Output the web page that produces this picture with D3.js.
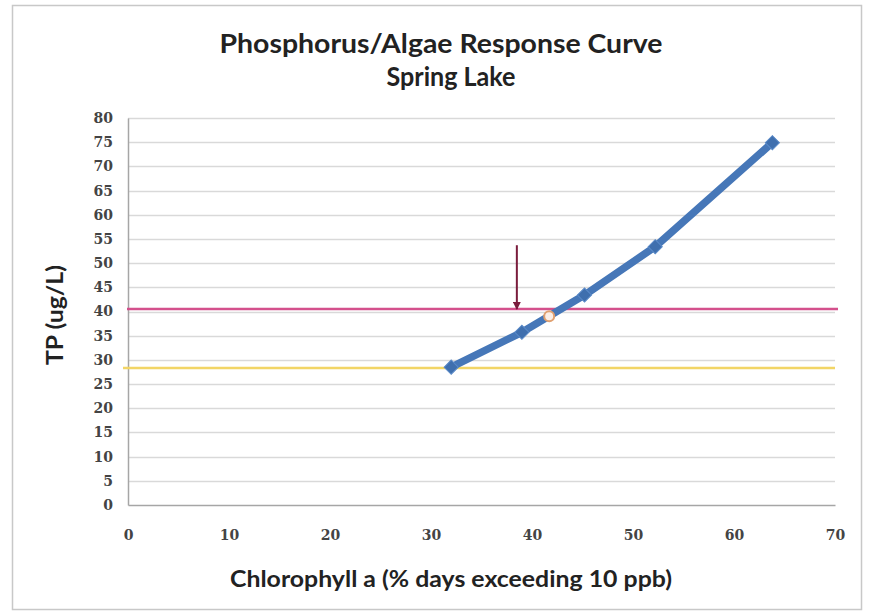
<!DOCTYPE html>
<html>
<head>
  <meta charset="utf-8" />
  <title>Phosphorus/Algae Response Curve</title>
  <style>
    body { margin: 0; background: white; }
    svg { display: block; }
  </style>
  <script src="https://cdn.jsdelivr.net/npm/d3@7"></script>
</head>
<body>
  <svg id="chart" width="872" height="616"></svg>
<script>
  // data
  var chlorophyll = [32, 39, 45.2, 52.2, 63.8];
  var tp = [28.5, 35.7, 43.4, 53.4, 74.9];
  var markPoint = [41.7, 39.0];
  var pinkLevel = 40.5;
  var yellowLevel = 28.3;
  var arrowX = 38.5, arrowFrom = 53.7, arrowTo = 40.5;
  var xTicks = [0, 10, 20, 30, 40, 50, 60, 70];
  var yTicks = d3.range(0, 81, 5);

  var svg = d3.select("#chart");
  var plotLeft = 128, plotRight = 835, plotTop = 118, plotBottom = 505;

  var x = d3.scaleLinear().domain([0, 70]).range([plotLeft, plotRight]);
  var y = d3.scaleLinear().domain([0, 80]).range([plotBottom, plotTop]);

  // outer border
  svg.append("rect")
    .attr("x", 12.5).attr("y", 5.5)
    .attr("width", 849).attr("height", 604)
    .style("fill", "white").style("stroke", "#c8c8c8").style("stroke-width", 1.5);

  // grid
  svg.append("g").selectAll("line")
    .data(yTicks.filter(function (d) { return d > 0 }))
    .enter().append("line")
    .attr("x1", plotLeft).attr("x2", plotRight)
    .attr("y1", function (d) { return Math.round(y(d)) + 0.5 })
    .attr("y2", function (d) { return Math.round(y(d)) + 0.5 })
    .style("stroke", "#d9d9d9").style("stroke-width", 1.5);

  // axes
  var yAxis = svg.append("g")
    .attr("transform", "translate(" + plotLeft + ",0)")
    .call(d3.axisLeft(y).tickValues(yTicks).tickSize(0).tickPadding(15));
  var xAxis = svg.append("g")
    .attr("transform", "translate(0," + plotBottom + ")")
    .call(d3.axisBottom(x).tickValues(xTicks).tickSize(0).tickPadding(25));
  [yAxis, xAxis].forEach(function (a) {
    a.select(".domain").style("stroke", "#a6a6a6").style("stroke-width", 1.5);
    a.selectAll("text")
      .style("font-family", "'DejaVu Serif', serif")
      .style("font-weight", "bold")
      .style("font-size", "14px")
      .style("fill", "#444");
  });

  // reference lines
  svg.append("line")
    .attr("x1", x(0) - 1).attr("x2", plotRight + 3)
    .attr("y1", y(pinkLevel)).attr("y2", y(pinkLevel))
    .style("stroke", "#d4508c").style("stroke-width", 2.5);
  svg.append("line")
    .attr("x1", x(0) - 5).attr("x2", plotRight)
    .attr("y1", y(yellowLevel)).attr("y2", y(yellowLevel))
    .style("stroke", "#f2d566").style("stroke-width", 2.5);

  // arrow
  svg.append("defs").append("marker")
    .attr("id", "head").attr("viewBox", "0 0 10 10")
    .attr("refX", 9).attr("refY", 5)
    .attr("markerWidth", 4).attr("markerHeight", 4)
    .attr("orient", "auto")
    .append("path").attr("d", "M0,0L10,5L0,10z").style("fill", "#7a1c3c");
  svg.append("line")
    .attr("x1", x(arrowX)).attr("x2", x(arrowX))
    .attr("y1", y(arrowFrom)).attr("y2", y(arrowTo))
    .style("stroke", "#7a1c3c").style("stroke-width", 2)
    .attr("marker-end", "url(#head)");

  // series
  var pts = chlorophyll.map(function (c, i) { return [c, tp[i]] });
  svg.append("path")
    .datum(pts)
    .attr("d", d3.line().x(function (d) { return x(d[0]) }).y(function (d) { return y(d[1]) }))
    .style("fill", "none").style("stroke", "#4677b8").style("stroke-width", 7.5)
    .style("stroke-linejoin", "round").style("stroke-linecap", "round");

  svg.append("g").selectAll("path")
    .data(pts).enter().append("path")
    .attr("transform", function (d) { return "translate(" + x(d[0]) + "," + y(d[1]) + ") rotate(45)" })
    .attr("d", d3.symbol().type(d3.symbolSquare).size(100))
    .style("fill", "#3f6fae").style("stroke", "#5a8ac8").style("stroke-width", 1);

  svg.append("circle")
    .attr("cx", x(markPoint[0])).attr("cy", y(markPoint[1])).attr("r", 5)
    .style("fill", "#fbeee6").style("stroke", "#e0a070").style("stroke-width", 2);

  // titles
  var font = "Lato, 'Open Sans', sans-serif";
  svg.append("text").attr("x", 441).attr("y", 53)
    .attr("text-anchor", "middle")
    .attr("textLength", 443).attr("lengthAdjust", "spacingAndGlyphs")
    .style("font-family", font).style("font-weight", "bold").style("font-size", "27px")
    .style("fill", "#222").text("Phosphorus/Algae Response Curve");
  svg.append("text").attr("x", 451).attr("y", 86)
    .attr("text-anchor", "middle")
    .attr("textLength", 129).attr("lengthAdjust", "spacingAndGlyphs")
    .style("font-family", font).style("font-weight", "bold").style("font-size", "27px")
    .style("fill", "#222").text("Spring Lake");
  svg.append("text").attr("x", 451).attr("y", 587)
    .attr("text-anchor", "middle")
    .attr("textLength", 442).attr("lengthAdjust", "spacingAndGlyphs")
    .style("font-family", font).style("font-weight", "bold").style("font-size", "22px")
    .style("fill", "#222").text("Chlorophyll a (% days exceeding 10 ppb)");
  svg.append("text")
    .attr("transform", "translate(63,315) rotate(-90)")
    .attr("text-anchor", "middle")
    .attr("textLength", 100).attr("lengthAdjust", "spacingAndGlyphs")
    .style("font-family", font).style("font-weight", "bold").style("font-size", "22px")
    .style("fill", "#222").text("TP (ug/L)");
</script>
</body>
</html>
